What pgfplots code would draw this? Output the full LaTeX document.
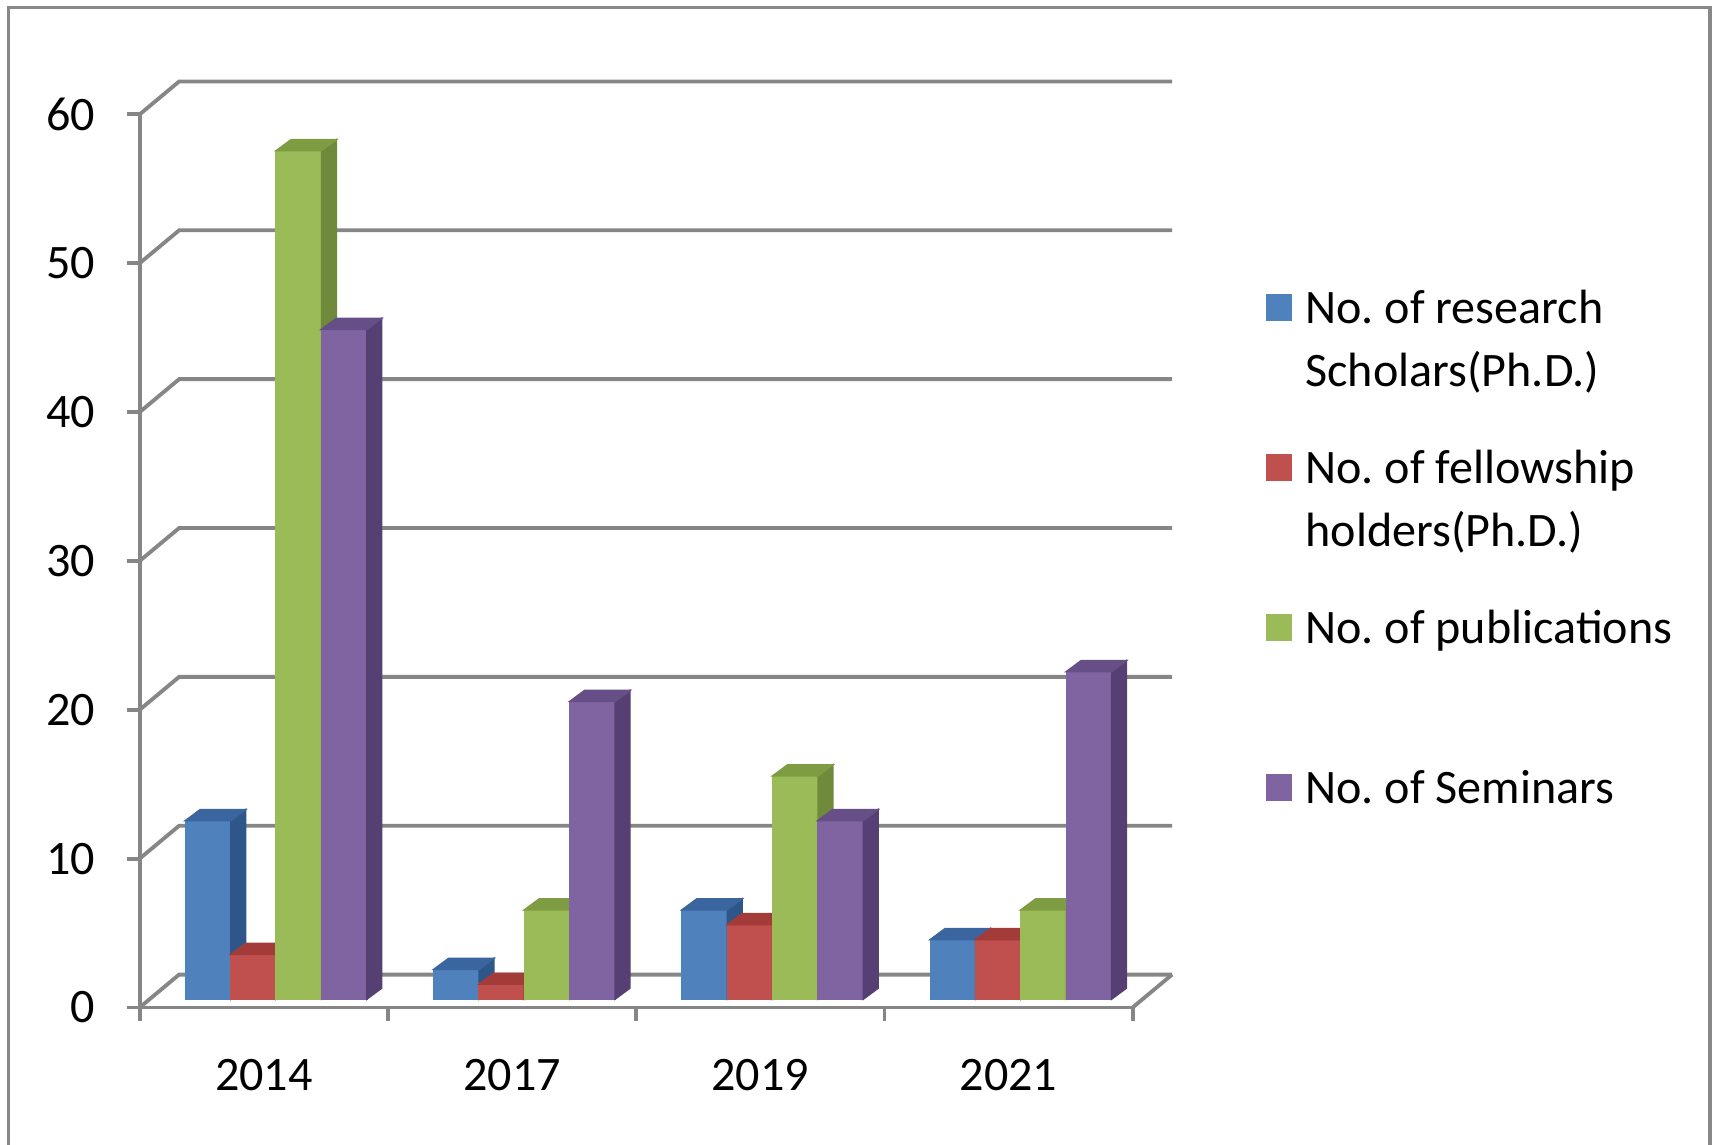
\documentclass[border=0pt]{standalone}
\usepackage{pgfplots}
\pgfplotsset{compat=1.18}
\usepackage{fontspec}
\setmainfont{Carlito}
\frenchspacing

\definecolor{axgray}{RGB}{134,134,134}
\definecolor{framegray}{RGB}{136,136,136}
% front / side / top of each 3d bar
\definecolor{bluef}{HTML}{4F81BD}
\definecolor{blues}{HTML}{2F5689}
\definecolor{bluet}{HTML}{3A659E}
\definecolor{redf}{HTML}{C0504D}
\definecolor{reds}{HTML}{8C3331}
\definecolor{redt}{HTML}{A33C39}
\definecolor{greenf}{HTML}{9BBB59}
\definecolor{greens}{HTML}{6E8A3A}
\definecolor{greent}{HTML}{7E9C42}
\definecolor{purplef}{HTML}{8064A2}
\definecolor{purples}{HTML}{553F73}
\definecolor{purplet}{HTML}{664F86}

\newcommand\tickfont{\fontsize{12.5}{15}\selectfont}
\newcommand\legfont{\fontsize{12.5}{16.2}\selectfont}
\DeclareRobustCommand\twoline[2]{\parbox[t]{50mm}{\strut#1\\\strut#2}}

% one 3d bar, drawn round the mark; #1 = left offset (mm) from the category centre
\newcommand\drawbar[4]{%
  \pgfmathsetmacro\bh{\barval*1.3593}%
  \fill[#2,x=1mm,y=1mm] (#1,0.76-\bh) rectangle (#1+4.14,0.76);
  \fill[#3,x=1mm,y=1mm] (#1+4.14,0.76-\bh) -- (#1+5.49,1.76-\bh) -- (#1+5.49,1.76) -- (#1+4.14,0.76) -- cycle;
  \fill[#4,x=1mm,y=1mm] (#1,0.76) -- (#1+1.35,1.76) -- (#1+5.49,1.76) -- (#1+4.14,0.76) -- cycle;
}
\pgfdeclareplotmark{barA}{\drawbar{-7.15}{bluef}{blues}{bluet}}
\pgfdeclareplotmark{barB}{\drawbar{-3.01}{redf}{reds}{redt}}
\pgfdeclareplotmark{barC}{\drawbar{1.13}{greenf}{greens}{greent}}
\pgfdeclareplotmark{barD}{\drawbar{5.27}{purplef}{purples}{purplet}}

\pgfplotsset{
  sq/.style={legend image code/.code={\fill[#1] (0mm,0.3mm) rectangle (2.3mm,2.6mm);}},
}

\begin{document}
\begin{tikzpicture}
\begin{axis}[
    x=22.67mm, y=1.3593mm,
    xmin=-0.5, xmax=3.5, ymin=0, ymax=60,
    axis lines*=left,
    axis line style={axgray, line width=1pt, -},
    tick style={axgray, line width=1pt},
    tick align=outside,
    major tick length=1.2mm,
    xtick={-0.5,0.5,1.5,2.5,3.5},
    x tick label as interval,
    xticklabels={2014,2017,2019,2021},
    ytick={0,10,...,60},
    /pgf/number format/assume math mode=true,
    ticklabel style={font=\tickfont, inner sep=0pt},
    yticklabel style={anchor=east, xshift=-2.8mm},
    xticklabel style={anchor=north, yshift=-3.5mm},
    clip=false,
    visualization depends on={rawy \as \barval},
    legend style={draw=none, fill=none, at={(1.133,0.8153)}, anchor=north west,
      inner sep=0pt, row sep=10.1mm, column sep=1.2mm, font=\legfont,
      nodes={inner sep=0pt}, cells={anchor=base west}},
  ]
  % back wall and floor
  \pgfplotsinvokeforeach{0,10,20,30,40,50,60}{
    \draw[axgray, line width=1pt] (axis cs:-0.5,#1) -- ([shift={(3.6mm,3mm)}]axis cs:-0.5,#1)
      -- ([shift={(3.6mm,3mm)}]axis cs:3.5,#1);
  }
  \draw[axgray, line width=1pt] (axis cs:3.5,0) -- ([shift={(3.6mm,3mm)}]axis cs:3.5,0);

  \addplot[only marks, mark=barA, sq=bluef] coordinates {(0,12) (1,2) (2,6) (3,4)};
  \addlegendentry{\twoline{No. of research}{Scholars(Ph.D.)}}
  \addplot[only marks, mark=barB, sq=redf] coordinates {(0,3) (1,1) (2,5) (3,4)};
  \addlegendentry{\twoline{No. of fellowship}{holders(Ph.D.)}}
  \addplot[only marks, mark=barC, sq=greenf] coordinates {(0,57) (1,6) (2,15) (3,6)};
  \addlegendentry{\twoline{No. of publications}{}}
  \addplot[only marks, mark=barD, sq=purplef] coordinates {(0,45) (1,20) (2,12) (3,22)};
  \addlegendentry{\twoline{No. of Seminars}{}}
\end{axis}
\draw[framegray, line width=0.9pt] (-11.96mm,-13mm) -- (-11.96mm,91.3mm) -- (143.4mm,91.3mm) -- (143.4mm,-13mm);
\pgfresetboundingbox
\path (-12.76mm,-12.5mm) rectangle (144.04mm,92mm);
\end{tikzpicture}
\end{document}
